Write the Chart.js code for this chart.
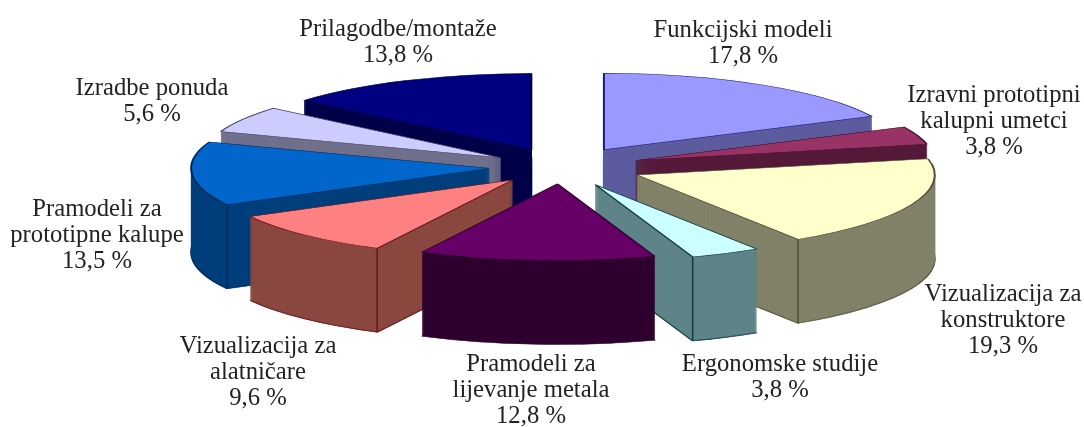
<!DOCTYPE html>
<html>
<head>
    <meta charset="utf-8">
    <title>Primjena prototipova</title>
    <script src="https://cdn.jsdelivr.net/npm/chart.js"></script>
    <style>
        html, body { margin: 0; padding: 0; background: #fff; }
        canvas { display: block; }
    </style>
</head>
<body>
    <canvas id="myChart" width="1084" height="427"></canvas>

    <script>
        const categories = [
            'Funkcijski modeli',
            'Izravni prototipni\nkalupni umetci',
            'Vizualizacija za\nkonstruktore',
            'Ergonomske studije',
            'Pramodeli za\nlijevanje metala',
            'Vizualizacija za\nalatničare',
            'Pramodeli za\nprototipne kalupe',
            'Izradbe ponuda',
            'Prilagodbe/montaže'
        ];
        const shares = [17.8, 3.8, 19.3, 3.8, 12.8, 9.6, 13.5, 5.6, 13.8];

        const topColors = ['#9999ff', '#993366', '#ffffcc', '#ccffff', '#660066', '#ff8080', '#0066cc', '#ccccff', '#000080'];
        const wallColors = ['#5c5c9e', '#551a3a', '#82826a', '#5f8488', '#2e002e', '#8a4840', '#003f7c', '#70708c', '#00004a'];
        const edgeColors = ['#1c1c70', '#40102a', '#50503a', '#103c40', '#2e002e', '#601818', '#002a55', '#404060', '#00003a'];

        // how far each slice is pulled out of the pie, before the tilt
        const explode = [79, 78, 81, 76, 66, 71, 73, 71, 73];
        // label centre x and first line baseline y
        const labelX = [743, 994, 1003, 780, 531, 258, 97, 152, 398];
        const labelY = [37, 102, 301, 371, 371, 353, 216, 95, 36];

        const squash = 0.257;
        const depth = 84;
        const lineHeight = 26;

        function mid(arc) {
            return (arc.startAngle + arc.endAngle) / 2;
        }

        const pie3d = {
            id: 'pie3d',
            beforeDatasetDraw(chart) {
                const ctx = chart.ctx;
                const arcs = chart.getDatasetMeta(0).data.map((arc, i) => ({ arc, i }));
                // far slices first so the near ones cover them
                arcs.sort((a, b) => Math.sin(mid(a.arc)) - Math.sin(mid(b.arc)));

                arcs.forEach(({ arc, i }) => {
                    const a = mid(arc);
                    const px = arc.x + Math.cos(a) * explode[i];
                    const py = arc.y + Math.sin(a) * explode[i] * squash;
                    const base = arc.options;

                    const place = h => {
                        ctx.save();
                        ctx.translate(px, py + h);
                        ctx.scale(1, squash);
                        ctx.translate(-arc.x, -arc.y);
                        arc.draw(ctx);
                        ctx.restore();
                    };

                    arc.options = { ...base, backgroundColor: edgeColors[i], borderColor: edgeColors[i], borderWidth: 2 };
                    place(depth);
                    arc.options = { ...base, backgroundColor: wallColors[i], borderColor: wallColors[i], borderWidth: 1 };
                    for (let h = depth - 1; h > 0; h--) place(h);
                    arc.options = base;

                    // crease where a cut face that looks at us meets the rim
                    ctx.strokeStyle = edgeColors[i];
                    ctx.lineWidth = 1.5;
                    [[arc.startAngle, -1], [arc.endAngle, 1]].forEach(([t, side]) => {
                        if (Math.sin(t) <= 0 || Math.cos(t) * side <= 0) return;
                        const x = px + Math.cos(t) * arc.outerRadius;
                        const y = py + Math.sin(t) * arc.outerRadius * squash;
                        ctx.beginPath();
                        ctx.moveTo(x, y);
                        ctx.lineTo(x, y + depth);
                        ctx.stroke();
                    });

                    place(0);
                });

                ctx.save();
                ctx.fillStyle = '#222';
                ctx.textAlign = 'center';
                ctx.font = '24.7px "Liberation Serif"';
                categories.forEach((name, i) => {
                    const lines = name.split('\n').concat(String(shares[i]).replace('.', ',') + ' %');
                    lines.forEach((line, n) => ctx.fillText(line, labelX[i], labelY[i] + n * lineHeight));
                });
                ctx.restore();
                return false;
            }
        };

        new Chart(document.getElementById('myChart').getContext('2d'), {
            type: 'pie',
            data: {
                labels: categories,
                datasets: [{
                    data: shares,
                    backgroundColor: topColors,
                    borderColor: edgeColors,
                    borderWidth: 2
                }]
            },
            options: {
                responsive: false,
                animation: false,
                radius: 298,
                layout: { padding: { left: 40, bottom: 93 } },
                plugins: { legend: { display: false }, tooltip: { enabled: false } }
            },
            plugins: [pie3d]
        });
    </script>
</body>
</html>
